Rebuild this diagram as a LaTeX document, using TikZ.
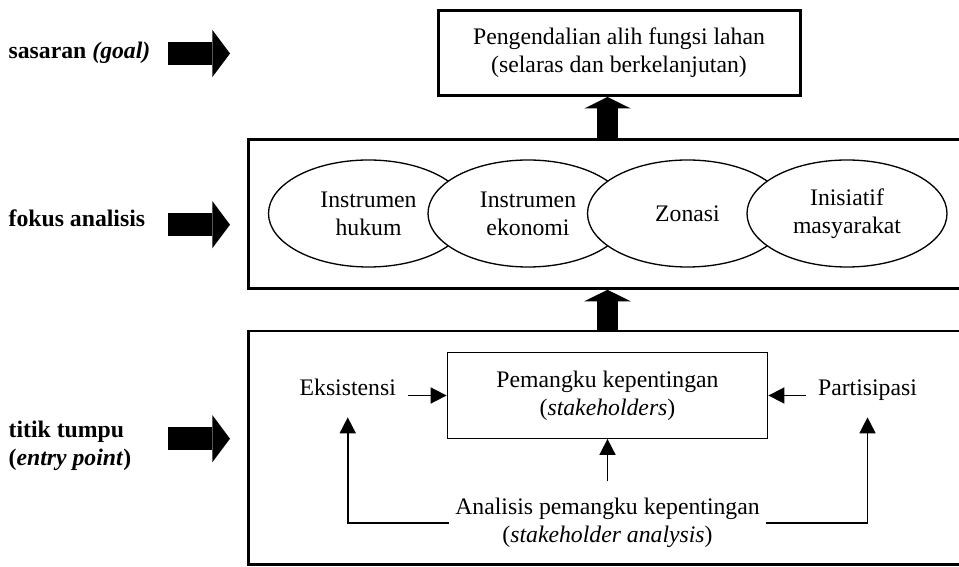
\documentclass[tikz,border=0pt]{standalone}
\usepackage{fontspec}
\setmainfont{Liberation Serif}
\usetikzlibrary{shapes.geometric,arrows.meta}

\tikzset{
  bigbox/.style={draw, line width=1.7pt, inner sep=0pt},
  oval/.style={ellipse, draw, fill=white, line width=0.75pt, minimum width=4cm, minimum height=2.14cm, inner sep=0pt, align=center},
  bigarrow/.style={line width=0.42cm, -{Triangle[width=0.93cm,length=0.23cm,line width=0pt]}},
  sidearrow/.style={line width=0.466cm, -{Triangle[width=0.946cm,length=0.354cm,line width=0pt]}},
  thinarrow/.style={line width=1pt, -{Triangle[width=0.32cm,length=0.32cm]}},
  side/.style={inner xsep=0.24cm, inner ysep=0.42cm, text depth=0pt, anchor=base},
  lbl/.style={inner sep=0pt, anchor=base west, align=left}
}

\begin{document}
\begin{tikzpicture}[font=\fontsize{13.5}{15.8}\selectfont]
\useasboundingbox (0,0) rectangle (19.18,11.32);
\clip (0,0) rectangle (19.18,11.32);
\node[lbl] (goal) at (0.166,10.154) {\textbf{sasaran \textit{(goal)}}};
\node[lbl] (fokuslbl) at (0.166,6.786) {\textbf{fokus analisis}};
\node[lbl, anchor=west] (entrylbl) at (0.166,2.4) {\textbf{titik tumpu}\\\textbf{(\textit{entry point})}};
\foreach \y in {10.25,6.826,2.546}
  \draw[sidearrow] (3.354,\y) -- (4.6,\y);
\node[bigbox, minimum width=7.24cm, minimum height=1.7cm, align=center] (top) at (12.38,10.26) {Pengendalian alih fungsi lahan\\(selaras dan berkelanjutan)};
\node[bigbox, minimum width=14.53cm, minimum height=2.98cm] (fokus) at (12.235,7.044) {};
\node[bigbox, minimum width=14.53cm, minimum height=4.67cm] (tumpu) at (12.235,2.365) {};
\node[oval] (hukum) at (7.37,7.05) {Instrumen\\hukum};
\node[oval] (ekonomi) at (10.56,7.05) {Instrumen\\ekonomi};
\node[oval] (zonasi) at (13.75,7.05) {Zonasi};
\node[oval] (inisiatif) at (16.94,7.05) {Inisiatif\\masyarakat};
\node[draw, line width=0.75pt, minimum width=6.41cm, minimum height=1.71cm, align=center] (pk) at (12.15,3.41) {Pemangku kepentingan\\(\textit{stakeholders})};
\node[side] (eks) at (6.955,3.4) {Eksistensi};
\node[side] (par) at (17.35,3.4) {Partisipasi};
\node[align=center, inner ysep=0.33cm] (ana) at (12.15,0.86) {Analisis pemangku kepentingan\\(\textit{stakeholder analysis})};
\draw[thinarrow] (eks.east |- pk.west) -- (pk.west);
\draw[thinarrow] (par.west |- pk.east) -- (pk.east);
\draw[thinarrow] (ana) -- (pk);
\draw[thinarrow] (ana.west) -| (eks.south);
\draw[thinarrow] (ana.east) -| (par.south);
\draw[bigarrow] (fokus.north -| pk.north) -- (top.south -| pk.north);
\draw[bigarrow] (tumpu.north -| pk.north) -- (fokus.south -| pk.north);
\end{tikzpicture}
\end{document}
